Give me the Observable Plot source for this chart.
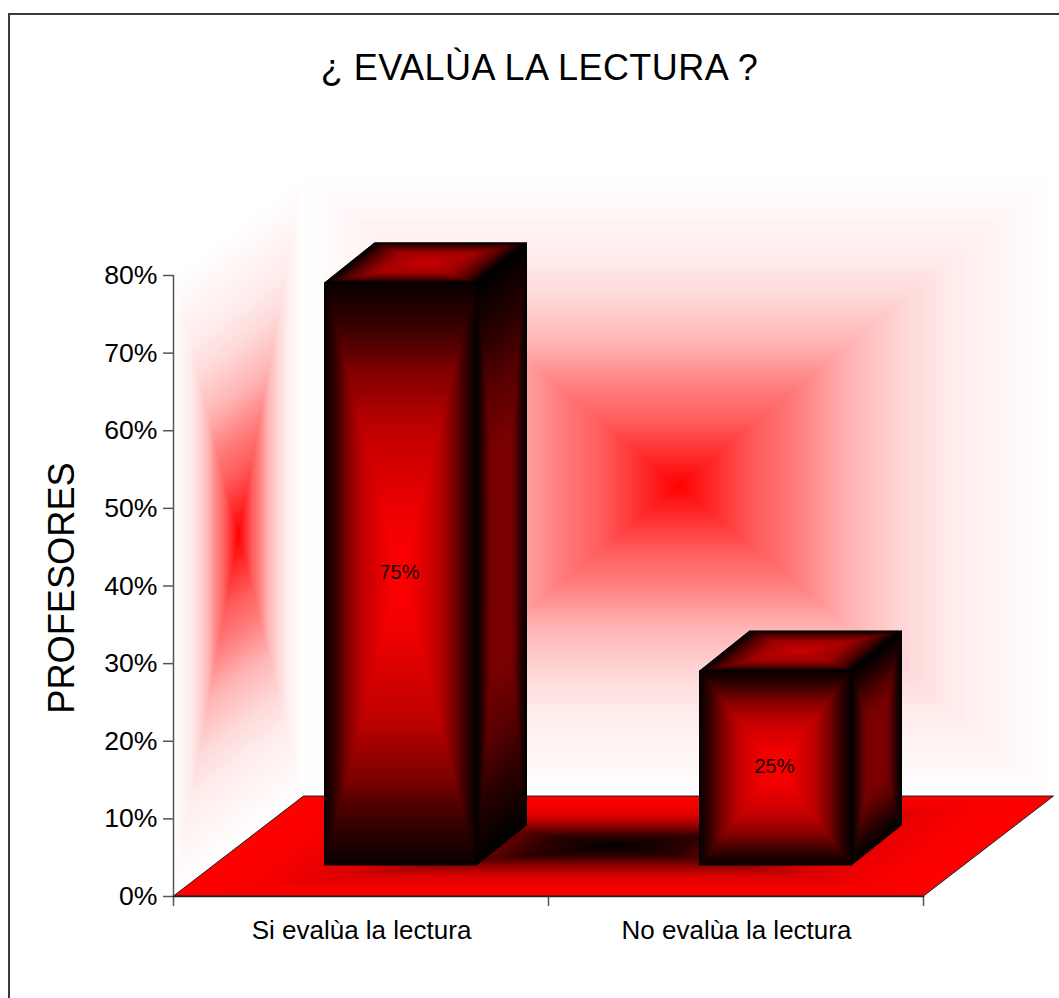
<!DOCTYPE html>
<html>
<head>
<meta charset="utf-8">
<script src="https://cdn.jsdelivr.net/npm/d3@7"></script>
<script src="https://cdn.jsdelivr.net/npm/@observablehq/plot@0.6"></script>
<style>
html,body{margin:0;padding:0;background:#fff;overflow:hidden}
#chart{position:relative;width:1059px;height:998px;font-family:"Liberation Sans",Arial,sans-serif}
#frame{position:absolute;left:8px;top:13px;right:-4px;bottom:-4px;border:2px solid #3a3a3a}
#title{position:absolute;left:0;top:45px;width:1079px;text-align:center;font-size:36px;letter-spacing:.48px;line-height:46px;color:#000}
svg{position:absolute;left:0;top:0}
</style>
</head>
<body>
<div id="chart"><div id="frame"></div><div id="title">¿ EVALÙA LA LECTURA ?</div></div>
<script>
const categories = ["Si evalùa la lectura", "No evalùa la lectura"];
const percentages = [75, 25];
const yTicks = [0, 10, 20, 30, 40, 50, 60, 70, 80];
const yLabel = "PROFESORES";

const rows = categories.map((category, i) => ({category, value: percentages[i]}));

// Depths of the fake 3D projection, in pixels
const wallDepth = [130, -100];
const barDepth = [50, -40];
const barOffset = [39.5, -31];

const ramp = (ts, cs) => d3.scaleLinear().domain(ts).range(cs).interpolate(d3.interpolateRgb);
const wallRamp = ramp([0, .12, .22, .3, .37, .46, .62, .74, .9, 1],
  ["#ff0000", "#ff3434", "#ff6060", "#ff7676", "#ff9090", "#ffb4b4", "#ffdada", "#ffecec", "#fff8f8", "#ffffff"]);
const floorRamp = ramp([0, .2, .4, .6, .8, 1],
  ["#000000", "#300000", "#900000", "#d80000", "#f40000", "#ff0000"]);
const frontRamp = ramp([0, .2, .5, .7, .8, .9, 1],
  ["#ff0000", "#f00000", "#c00000", "#800000", "#500000", "#280000", "#080000"]);
const sideRamp = ramp([0, .4, .6, .8, 1], ["#800000", "#780000", "#580000", "#280000", "#000000"]);
const topRamp = ramp([0, .5, .8, 1], ["#c80000", "#a00000", "#500000", "#000000"]);

function boxFace(parent, corners, colorAt, stroke) {
  const n = 128;
  const cx = d3.mean(corners, c => c[0]), cy = d3.mean(corners, c => c[1]);
  for (let i = 0; i <= n; ++i) {
    const s = 1 - i / n;
    parent.append("polygon")
      .attr("points", corners.map(([x, y]) => `${cx + s * (x - cx)},${cy + s * (y - cy)}`).join(" "))
      .attr("fill", colorAt(s));
  }
  if (stroke) parent.append("polygon")
    .attr("points", corners.join(" "))
    .attr("fill", "none").attr("stroke", stroke).attr("stroke-width", 1);
}

function scene(index, {x, y}, values, dims) {
  const g = d3.create("svg:g");
  // pattern used by the front faces of the bars
  const pat = g.append("defs").append("pattern").attr("id", "boxFront")
    .attr("patternUnits", "objectBoundingBox").attr("patternContentUnits", "objectBoundingBox")
    .attr("width", 1).attr("height", 1);
  for (let i = 0; i <= 128; ++i) {
    const s = 1 - i / 128;
    pat.append("rect").attr("x", .5 - s / 2).attr("y", .5 - s / 2).attr("width", s).attr("height", s)
      .attr("fill", frontRamp(s));
  }
  const pad = (x.step() - x.bandwidth()) / 2;
  const left = x(categories[0]) - pad, right = x(categories[1]) + x.bandwidth() + pad;
  const y0 = y(0), yMax = y(yTicks[yTicks.length - 1]);
  const [wx, wy] = wallDepth;
  boxFace(g, [[left, y0], [left + wx, y0 + wy], [left + wx, yMax + wy], [left, yMax]], wallRamp);
  boxFace(g, [[left + wx, y0 + wy], [right + wx, y0 + wy], [right + wx, yMax + wy], [left + wx, yMax + wy]], wallRamp);
  boxFace(g, [[left, y0], [right, y0], [right + wx, y0 + wy], [left + wx, y0 + wy]], floorRamp, "#222");
  // x tick marks at the band edges
  for (const t of [left, left + x.step(), right]) {
    g.append("line").attr("x1", t).attr("x2", t).attr("y1", y0).attr("y2", y0 + 10)
      .attr("stroke", "#555").attr("stroke-width", 1.5);
  }
  // side and top faces of the bars
  const [bx, by] = barDepth;
  for (const d of rows) {
    const x1 = x(d.category) + barOffset[0], x2 = x1 + x.bandwidth();
    const t = y(d.value) + barOffset[1], b = y0 + barOffset[1];
    boxFace(g, [[x2, b], [x2 + bx, b + by], [x2 + bx, t + by], [x2, t]], sideRamp, "#000");
    boxFace(g, [[x1, t], [x2, t], [x2 + bx, t + by], [x1 + bx, t + by]], topRamp, "#000");
  }
  return g.node();
}

const plot = Plot.plot({
  width: 1059,
  height: 998,
  marginLeft: 173,
  marginRight: 136,
  marginTop: 275,
  marginBottom: 102,
  style: {fontFamily: '"Liberation Sans", Arial, sans-serif', background: "transparent", color: "#000"},
  x: {domain: categories, paddingInner: 0.5947, paddingOuter: 0.2973, label: null},
  y: {domain: [0, yTicks[yTicks.length - 1]], label: null},
  marks: [
    scene,
    Plot.frame({anchor: "left", stroke: "#555", strokeWidth: 1.5}),
    Plot.frame({anchor: "bottom", stroke: "#222", strokeWidth: 1.5}),
    Plot.barY(rows, {x: "category", y: "value", fill: "url(#boxFront)", stroke: "#000", strokeWidth: 1,
      dx: barOffset[0], dy: barOffset[1]}),
    Plot.text(rows, {x: "category", y: d => d.value / 2, text: d => d.value + "%", fontSize: 20, fill: "#1a0000",
      dx: barOffset[0] - 1.5, dy: barOffset[1] - 2}),
    Plot.axisY({ticks: yTicks, tickFormat: d => d + "%", tickSize: 10, tickPadding: 6, fontSize: 26.6, stroke: "#555", strokeWidth: 1.5}),
    Plot.axisX({tickSize: 0, tickPadding: 24, fontSize: 26}),
    Plot.text([yLabel], {frameAnchor: "left", textAnchor: "middle", rotate: -90, dx: -111, dy: 2, fontSize: 36.2})
  ]
});
document.getElementById("chart").appendChild(plot);
</script>
</body>
</html>
